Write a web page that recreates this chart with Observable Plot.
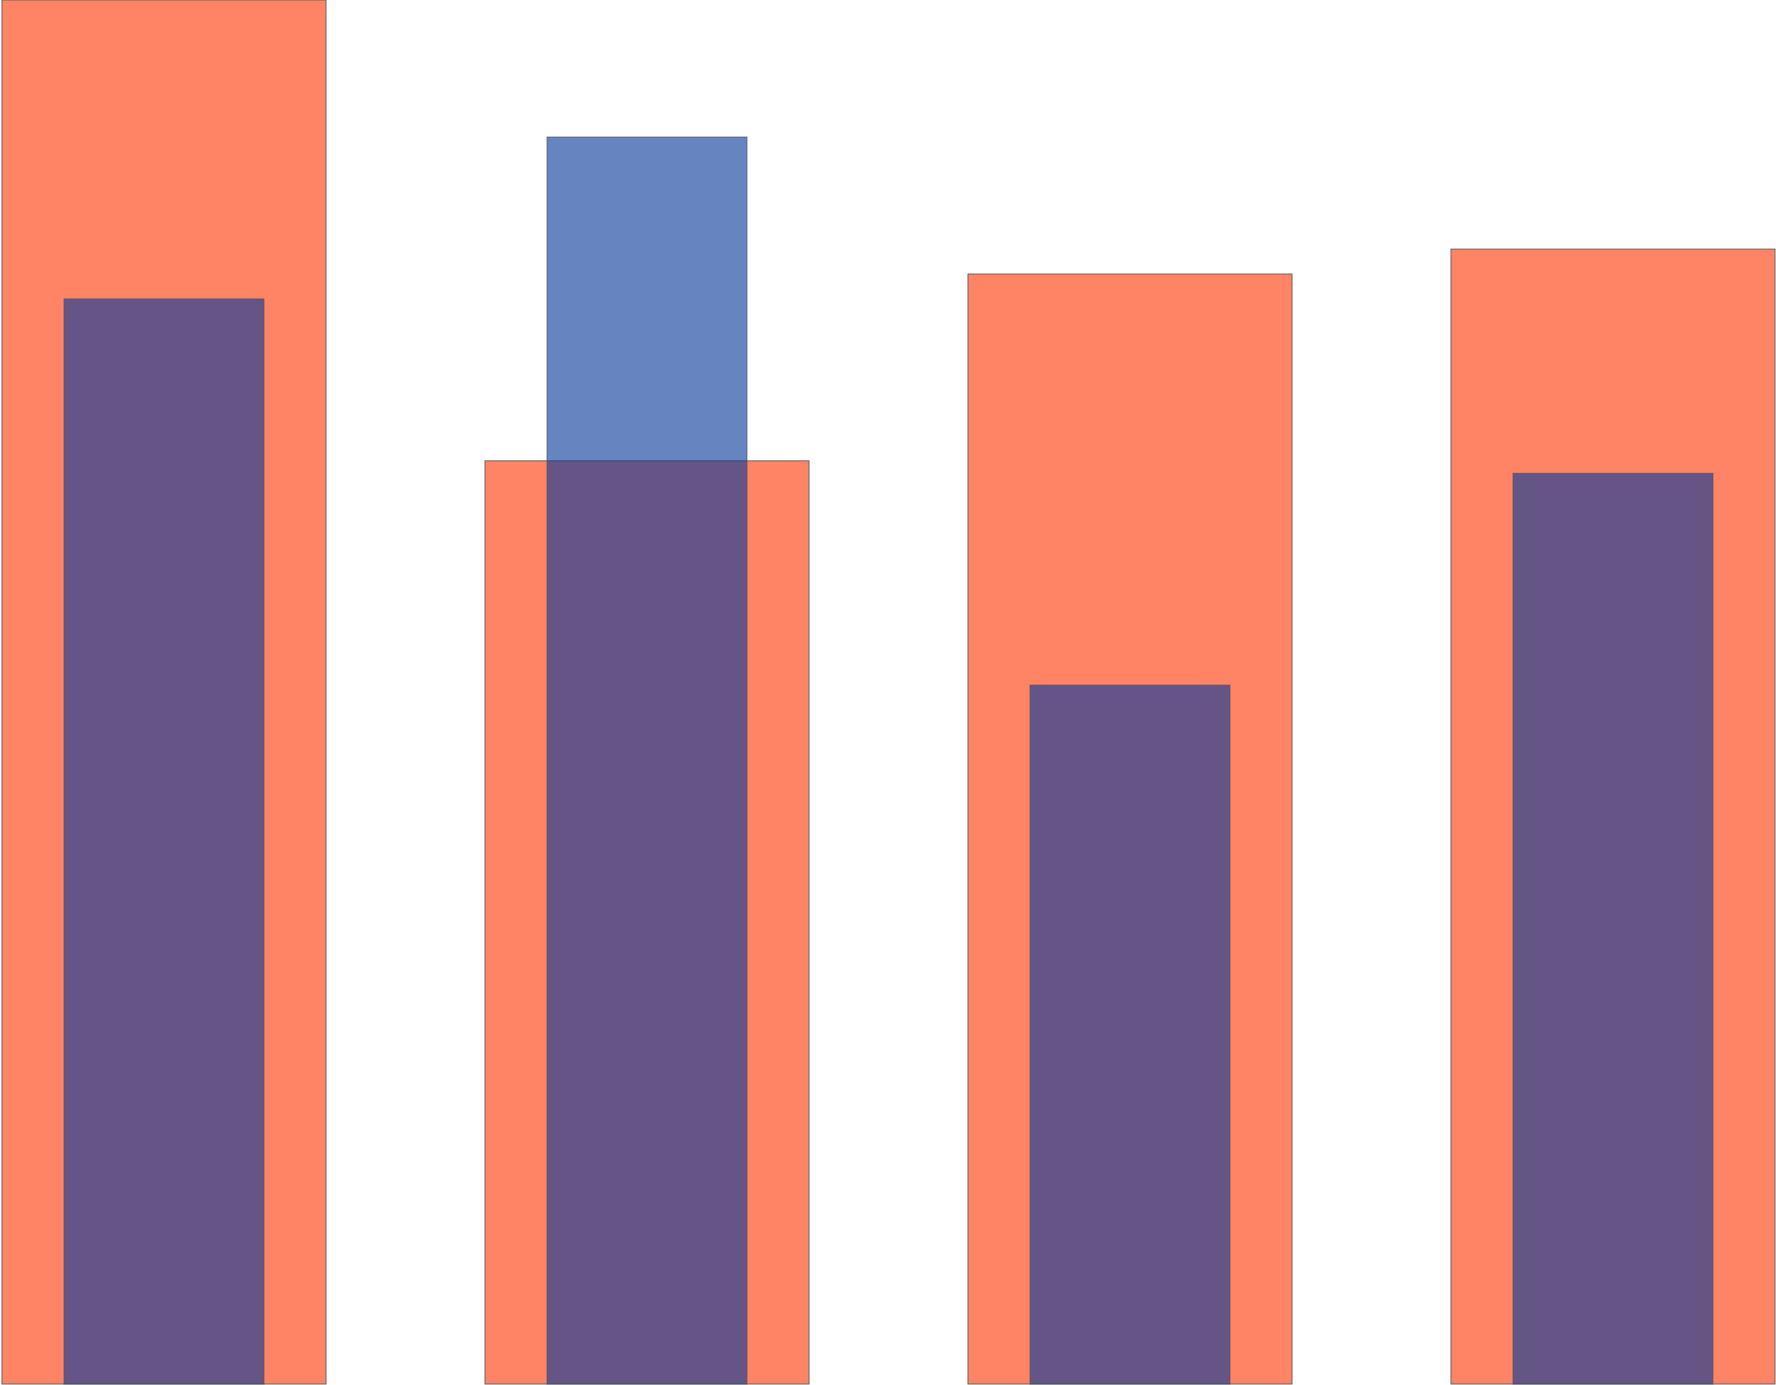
<!DOCTYPE html>
<html>
<head>
<meta charset="utf-8">
<script src="https://cdn.jsdelivr.net/npm/d3@7"></script>
<script src="https://cdn.jsdelivr.net/npm/@observablehq/plot@0.6"></script>
<style>
  html, body { margin: 0; padding: 0; background: #fff; }
  #chart svg { display: block; }
</style>
</head>
<body>
<div id="chart"></div>
<script>
const categories = ["A", "B", "C", "D"];
const backValues = [100, 66.7, 80.2, 82.0];
const frontValues = [78.4, 90.1, 50.5, 65.8];

const back = categories.map((c, i) => ({category: c, value: backValues[i]}));
const front = categories.map((c, i) => ({category: c, value: frontValues[i]}));

const chart = Plot.plot({
  width: 1776,
  height: 1385,
  marginTop: 0,
  marginBottom: 1,
  marginLeft: 0,
  marginRight: 0,
  x: {domain: categories, paddingInner: 0.33, paddingOuter: 0, axis: null},
  y: {domain: [0, 100], axis: null},
  marks: [
    Plot.barY(back, {x: "category", y: "value", fill: "#ff8466", stroke: "#666", strokeWidth: 1}),
    Plot.barY(front, {x: "category", y: "value", fill: "#073999", fillOpacity: 0.62, stroke: "#555", strokeOpacity: 0.7, strokeWidth: 1, insetLeft: 62, insetRight: 62})
  ]
});
document.getElementById("chart").append(chart);
</script>
</body>
</html>
